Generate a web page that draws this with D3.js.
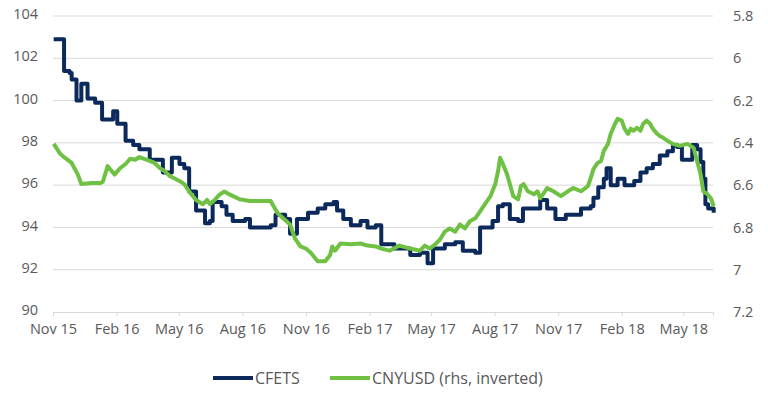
<!DOCTYPE html>
<html>
<head>
<meta charset="utf-8">
<script src="https://cdn.jsdelivr.net/npm/d3@7"></script>
<style>
  body { margin: 0; background: #fff; }
  text { font-family: "Open Sans", sans-serif; fill: #595959; }
</style>
</head>
<body>
<div id="chart"></div>
<script>
// values

var cfetsDates = ["2015-11-02","2015-11-14","2015-11-17","2015-11-25","2015-11-28","2015-12-04","2015-12-05","2015-12-10","2015-12-12","2015-12-18","2015-12-21","2016-01-01","2016-01-11","2016-01-19","2016-01-27","2016-02-02","2016-02-14","2016-02-25","2016-03-05","2016-03-20","2016-04-08","2016-04-15","2016-04-21","2016-05-02","2016-05-09","2016-05-16","2016-05-26","2016-06-08","2016-06-15","2016-06-19","2016-07-02","2016-07-09","2016-07-18","2016-08-05","2016-08-12","2016-09-11","2016-09-18","2016-10-02","2016-10-09","2016-10-19","2016-11-04","2016-11-18","2016-11-29","2016-12-11","2016-12-16","2016-12-25","2017-01-05","2017-01-19","2017-01-29","2017-02-10","2017-02-18","2017-03-09","2017-04-01","2017-04-15","2017-04-26","2017-05-04","2017-05-21","2017-06-05","2017-06-16","2017-07-04","2017-07-11","2017-07-29","2017-08-06","2017-08-13","2017-08-23","2017-09-04","2017-09-11","2017-09-27","2017-10-06","2017-10-16","2017-10-28","2017-11-12","2017-11-27","2017-12-04","2017-12-18","2017-12-22","2017-12-29","2018-01-06","2018-01-10","2018-01-16","2018-01-26","2018-02-05","2018-02-19","2018-02-28","2018-03-09","2018-03-18","2018-03-28","2018-04-08","2018-04-16","2018-04-22","2018-04-29","2018-05-11","2018-05-14","2018-05-21","2018-05-26","2018-05-30","2018-06-02","2018-06-06","2018-06-14"];
var cfetsValues = [102.9,102.9,101.4,101.3,101.0,101.0,100.0,100.0,100.8,100.8,100.1,99.9,99.1,99.1,99.5,98.9,98.1,97.9,97.7,97.2,96.6,96.6,97.3,97.0,96.8,95.7,94.8,94.2,94.3,95.2,95.0,94.6,94.3,94.4,94.0,94.1,94.6,94.4,93.7,94.4,94.7,94.9,95.1,95.2,94.8,94.4,94.1,94.3,94.0,94.1,93.2,93.0,92.7,92.8,92.3,93.0,93.2,93.3,92.9,92.8,94.0,94.3,95.0,95.1,94.4,94.3,94.9,94.9,95.3,94.9,94.4,94.6,94.6,94.9,95.0,95.4,95.9,96.3,96.8,96.0,96.3,96.0,96.2,96.6,96.8,97.0,97.4,97.6,97.9,97.8,97.2,97.2,97.9,97.7,97.1,96.3,95.1,94.9,94.7];

var cnyDates = ["2015-11-02","2015-11-11","2015-11-18","2015-11-28","2015-12-07","2015-12-12","2015-12-27","2016-01-08","2016-01-12","2016-01-19","2016-01-29","2016-02-06","2016-02-14","2016-02-21","2016-02-28","2016-03-05","2016-03-20","2016-03-27","2016-04-04","2016-04-11","2016-04-18","2016-05-02","2016-05-09","2016-05-16","2016-05-26","2016-06-05","2016-06-11","2016-06-15","2016-06-22","2016-06-29","2016-07-06","2016-07-14","2016-07-28","2016-08-12","2016-08-27","2016-09-11","2016-09-21","2016-09-29","2016-10-09","2016-10-16","2016-10-24","2016-11-01","2016-11-08","2016-11-18","2016-11-29","2016-12-06","2016-12-09","2016-12-13","2016-12-21","2017-01-05","2017-01-19","2017-01-29","2017-02-10","2017-02-18","2017-03-02","2017-03-16","2017-04-01","2017-04-15","2017-04-22","2017-04-29","2017-05-07","2017-05-14","2017-05-21","2017-05-28","2017-06-05","2017-06-12","2017-06-19","2017-06-26","2017-07-04","2017-07-11","2017-07-18","2017-07-26","2017-08-02","2017-08-06","2017-08-09","2017-08-13","2017-08-19","2017-08-23","2017-08-28","2017-09-04","2017-09-08","2017-09-12","2017-09-18","2017-09-27","2017-10-02","2017-10-06","2017-10-16","2017-10-25","2017-11-05","2017-11-15","2017-11-23","2017-12-04","2017-12-14","2017-12-18","2017-12-22","2017-12-28","2018-01-02","2018-01-06","2018-01-12","2018-01-16","2018-01-21","2018-01-26","2018-02-01","2018-02-05","2018-02-10","2018-02-14","2018-02-18","2018-02-23","2018-02-28","2018-03-04","2018-03-09","2018-03-14","2018-03-18","2018-03-24","2018-03-28","2018-04-02","2018-04-08","2018-04-16","2018-04-26","2018-05-07","2018-05-16","2018-05-21","2018-05-26","2018-05-30","2018-06-05","2018-06-10","2018-06-14"];
var cnyValues = [6.405,6.45,6.47,6.495,6.55,6.595,6.59,6.59,6.585,6.51,6.55,6.52,6.50,6.475,6.48,6.467,6.485,6.495,6.52,6.535,6.557,6.58,6.595,6.63,6.67,6.69,6.67,6.69,6.67,6.645,6.63,6.645,6.667,6.675,6.675,6.675,6.733,6.757,6.786,6.852,6.89,6.9,6.92,6.96,6.96,6.93,6.89,6.91,6.876,6.88,6.876,6.886,6.89,6.9,6.91,6.886,6.9,6.91,6.886,6.9,6.88,6.857,6.82,6.805,6.82,6.786,6.805,6.771,6.757,6.724,6.69,6.652,6.595,6.533,6.471,6.5,6.548,6.595,6.652,6.667,6.605,6.595,6.629,6.643,6.629,6.662,6.614,6.629,6.652,6.629,6.614,6.629,6.605,6.567,6.524,6.495,6.486,6.438,6.405,6.357,6.319,6.286,6.295,6.333,6.357,6.333,6.343,6.329,6.343,6.31,6.295,6.31,6.333,6.357,6.367,6.376,6.39,6.405,6.414,6.405,6.424,6.486,6.548,6.629,6.643,6.662,6.7];

var leftTicks = [90, 92, 94, 96, 98, 100, 102, 104];
var rightTicks = [5.8, 6, 6.2, 6.4, 6.6, 6.8, 7, 7.2];
var xTickDates = ["2015-11-01","2016-02-01","2016-05-01","2016-08-01","2016-11-01","2017-02-01","2017-05-01","2017-08-01","2017-11-01","2018-02-01","2018-05-01"];
var seriesNames = ["CFETS", "CNYUSD (rhs, inverted)"];
var seriesColors = ["#0b2a5b", "#6fc144"];

var width = 768, height = 395;
var margin = {top: 16, left: 53, bottom: 83, right: 55}; // plot: x 53..713, y 16..312

var parse = d3.timeParse("%Y-%m-%d");
var fmt = d3.timeFormat("%b %y");

var svg = d3.select("#chart").append("svg")
    .attr("width", width)
    .attr("height", height);

var x = d3.scaleTime()
    .domain([parse("2015-11-01"), parse("2018-06-13")])
    .range([margin.left, width - margin.right]);
var yL = d3.scaleLinear().domain([90, 104]).range([height - margin.bottom, margin.top]);
var yR = d3.scaleLinear().domain([5.8, 7.2]).range([margin.top, height - margin.bottom]); // inverted

// gridlines
svg.append("g").selectAll("line")
    .data(leftTicks.slice(1))
    .join("line")
    .attr("x1", margin.left).attr("x2", width - margin.right)
    .attr("y1", d => yL(d)).attr("y2", d => yL(d))
    .attr("stroke", "#d9d9d9").attr("stroke-width", 1);

// x axis
var xAxis = svg.append("g")
    .attr("transform", "translate(0," + yL(90) + ")")
    .call(d3.axisBottom(x).tickValues(xTickDates.map(parse)).tickFormat(fmt).tickSize(4).tickPadding(8));
xAxis.select(".domain").attr("stroke", "#d9d9d9");
xAxis.selectAll(".tick line").attr("stroke", "#d9d9d9");
xAxis.selectAll("text").style("font-size", "14.5px").attr("fill", "#595959");

// left axis labels
svg.append("g").selectAll("text")
    .data(leftTicks)
    .join("text")
    .attr("x", 38).attr("y", d => yL(d) - 2)
    .attr("dy", "0.35em")
    .attr("text-anchor", "end")
    .style("font-size", "14.5px")
    .text(d => d);

// right axis labels
svg.append("g").selectAll("text")
    .data(rightTicks)
    .join("text")
    .attr("x", 733).attr("y", d => yR(d))
    .attr("dy", "0.35em")
    .style("font-size", "14.5px")
    .text(d => d);

var cfets = cfetsDates.map((d, i) => ({date: parse(d), v: cfetsValues[i]}));
var cny = cnyDates.map((d, i) => ({date: parse(d), v: cnyValues[i]}));

svg.append("path")
    .datum(cfets)
    .attr("fill", "none")
    .attr("stroke", seriesColors[0])
    .attr("stroke-width", 4)
    .attr("stroke-linejoin", "round")
    .attr("d", d3.line().curve(d3.curveStepAfter).x(d => x(d.date)).y(d => yL(d.v)));

svg.append("path")
    .datum(cny)
    .attr("fill", "none")
    .attr("stroke", seriesColors[1])
    .attr("stroke-width", 4)
    .attr("stroke-linejoin", "round")
    .attr("d", d3.line().x(d => x(d.date)).y(d => yR(d.v)));

// legend
var legendX = [213, 330];
var legend = svg.append("g").selectAll("g")
    .data(seriesNames)
    .join("g")
    .attr("transform", (d, i) => "translate(" + legendX[i] + ",378)");
legend.append("line")
    .attr("x1", 0).attr("x2", 40)
    .attr("stroke", (d, i) => seriesColors[i])
    .attr("stroke-width", 4);
legend.append("text")
    .attr("x", 42).attr("dy", "0.35em")
    .style("font-size", "16px")
    .text(d => d);
</script>
</body>
</html>
